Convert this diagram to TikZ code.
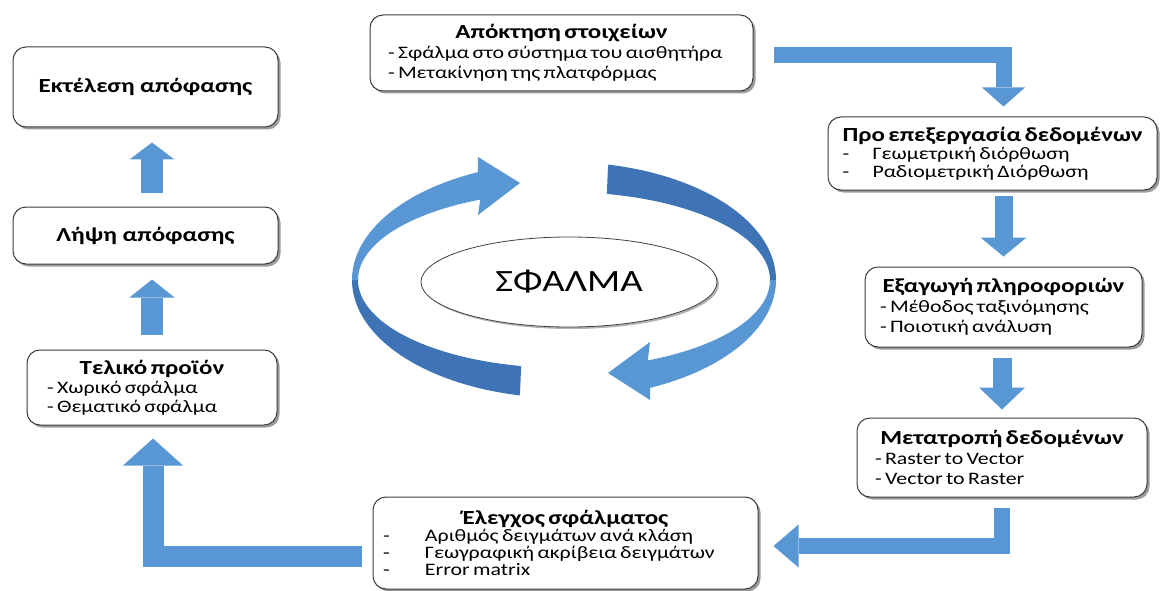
\documentclass[tikz,border=0pt]{standalone}
\usepackage{fontspec}
\setmainfont{Carlito}[FakeStretch=1.25]
\usetikzlibrary{shadows,arrows.meta,calc,shapes.geometric}
\definecolor{arr}{RGB}{88,151,212}
\definecolor{arrdk}{RGB}{62,116,182}
\definecolor{bord}{RGB}{60,60,60}
\newcommand\ttlfont{\bfseries\fontsize{20}{20}\selectfont}
\newcommand\itmfont[1]{\mdseries\fontsize{17.5}{#1}\selectfont}
\newcommand\dsh[1]{\makebox[#1][l]{-}}
\begin{document}
\begin{tikzpicture}[x=1pt,y=-1pt,
  box/.style={rectangle, draw=bord, line width=1pt, fill=white, rounded corners=13pt, inner sep=0pt,
    drop shadow={shadow xshift=2.5pt,shadow yshift=-2.5pt,opacity=0.6,fill=black!65}},
  blk/.style n args={3}{draw=arr, line width=#1pt, line join=miter,
    -{Triangle[length=#3pt,width=#2pt,line width=0pt]}},
]
\useasboundingbox (0,0) rectangle (1162,591);

% circular ribbon arrows
\fill[arrdk] plot[domain=258:179,samples=50] ({564+212*cos(\x)},{280-118*sin(\x)})
  -- plot[domain=179:258,samples=50] ({564+206*cos(\x)},{280-88*sin(\x)}) -- cycle;
\fill[arr] plot[domain=180:114,samples=50] ({564+212*cos(\x)},{280-118*sin(\x)})
  -- (478,157) -- (520,183) -- (478,215)
  -- plot[domain=114:180,samples=50] ({564+206*cos(\x)},{280-88*sin(\x)}) -- cycle;
\fill[arrdk] plot[domain=78:-1,samples=50] ({564+212*cos(\x)},{280-118*sin(\x)})
  -- plot[domain=-1:78,samples=50] ({564+206*cos(\x)},{280-88*sin(\x)}) -- cycle;
\fill[arr] plot[domain=0:-66,samples=50] ({564+212*cos(\x)},{280-118*sin(\x)})
  -- (650,400) -- (608,373) -- (650,342)
  -- plot[domain=-66:0,samples=50] ({564+206*cos(\x)},{280-88*sin(\x)}) -- cycle;

\node[ellipse, draw=black!75, line width=0.8pt, fill=white, minimum width=296pt, minimum height=90pt,
  drop shadow={shadow xshift=2pt,shadow yshift=-2pt,opacity=0.5,fill=black!60}] (err) at (569,282)
  {\fontsize{31}{31}\selectfont ΣΦΑΛΜΑ};

% boxes
\node[box, minimum width=383pt, minimum height=76pt, text width=347pt] (A) at (561.5,53)
  {\ttlfont\centering\mbox{Απόκτηση στοιχείων}\par\raggedright\itmfont{20}%
   \mbox{- Σφάλμα στο σύστημα του αισθητήρα}\par\mbox{- Μετακίνηση της πλατφόρμας}\par};
\node[box, minimum width=329pt, minimum height=73pt, text width=300pt] (B) at (992.5,153.5)
  {\ttlfont\centering\mbox{Προ επεξεργασία δεδομένων}\par\raggedright\itmfont{18}%
   \mbox{\dsh{30pt}Γεωμετρική διόρθωση}\par\mbox{\dsh{30pt}Ραδιομετρική Διόρθωση}\par};
\node[box, minimum width=277pt, minimum height=80pt, text width=247pt] (C) at (1003.5,307)
  {\ttlfont\centering\mbox{Εξαγωγή πληροφοριών}\par\raggedright\itmfont{20}%
   \mbox{- Μέθοδος ταξινόμησης}\par\mbox{- Ποιοτική ανάλυση}\par};
\node[box, minimum width=290pt, minimum height=79pt, text width=254pt] (D) at (1002,457.5)
  {\ttlfont\centering\mbox{Μετατροπή δεδομένων}\par\raggedright\itmfont{20}%
   \mbox{- Raster to Vector}\par\mbox{- Vector to Raster}\par};
\node[box, minimum width=385pt, minimum height=92pt, text width=365pt] (E) at (565.5,543)
  {\ttlfont\centering\mbox{Έλεγχος σφάλματος}\par\raggedright\itmfont{17}%
   \mbox{\dsh{42pt}Αριθμός δειγμάτων ανά κλάση}\par
   \mbox{\dsh{42pt}Γεωγραφική ακρίβεια δειγμάτων}\par
   \mbox{\dsh{42pt}Error matrix}\par};
\node[box, minimum width=250pt, minimum height=75pt, text width=210pt] (F) at (152,387.5)
  {\ttlfont\centering\mbox{Τελικό προϊόν}\par\raggedright\itmfont{19}%
   \mbox{- Χωρικό σφάλμα}\par\mbox{- Θεματικό σφάλμα}\par};
\node[box, minimum width=265pt, minimum height=57pt, font=\ttlfont] (G) at (145.5,235.5) {Λήψη απόφασης};
\node[box, minimum width=265pt, minimum height=80pt, font=\ttlfont] (H) at (145.5,87) {Εκτέλεση απόφασης};

% block arrows
\draw[blk={16}{43}{19}] ([xshift=20pt,yshift=-2pt]A.east) -| ($(B.north -| C.north)+(0,-10)$);
\draw[blk={18}{46}{19}] ($(B.south -| C.north)+(0,5)$) -- ($(C.north)+(0,-10)$);
\draw[blk={19}{46}{22}] ($(C.south -| D.north)+(0,10)$) -- ($(D.north)+(0,-8)$);
\draw[blk={16}{43}{25}] ($(D.south)+(0,10)$) |- ($(E.east)+(15,3)$);
\draw[blk={21}{60}{27}] ($(E.west)+(-11,13)$) -| ($(F.south)+(1,13)$);
\draw[blk={22}{45}{18}] ($(F.north)+(0,-15)$) -- ($(G.south -| F.north)+(0,15)$);
\draw[blk={22}{45}{17}] ($(G.north -| F.north)+(0,-14)$) -- ($(H.south -| F.north)+(0,15)$);
\end{tikzpicture}
\end{document}
